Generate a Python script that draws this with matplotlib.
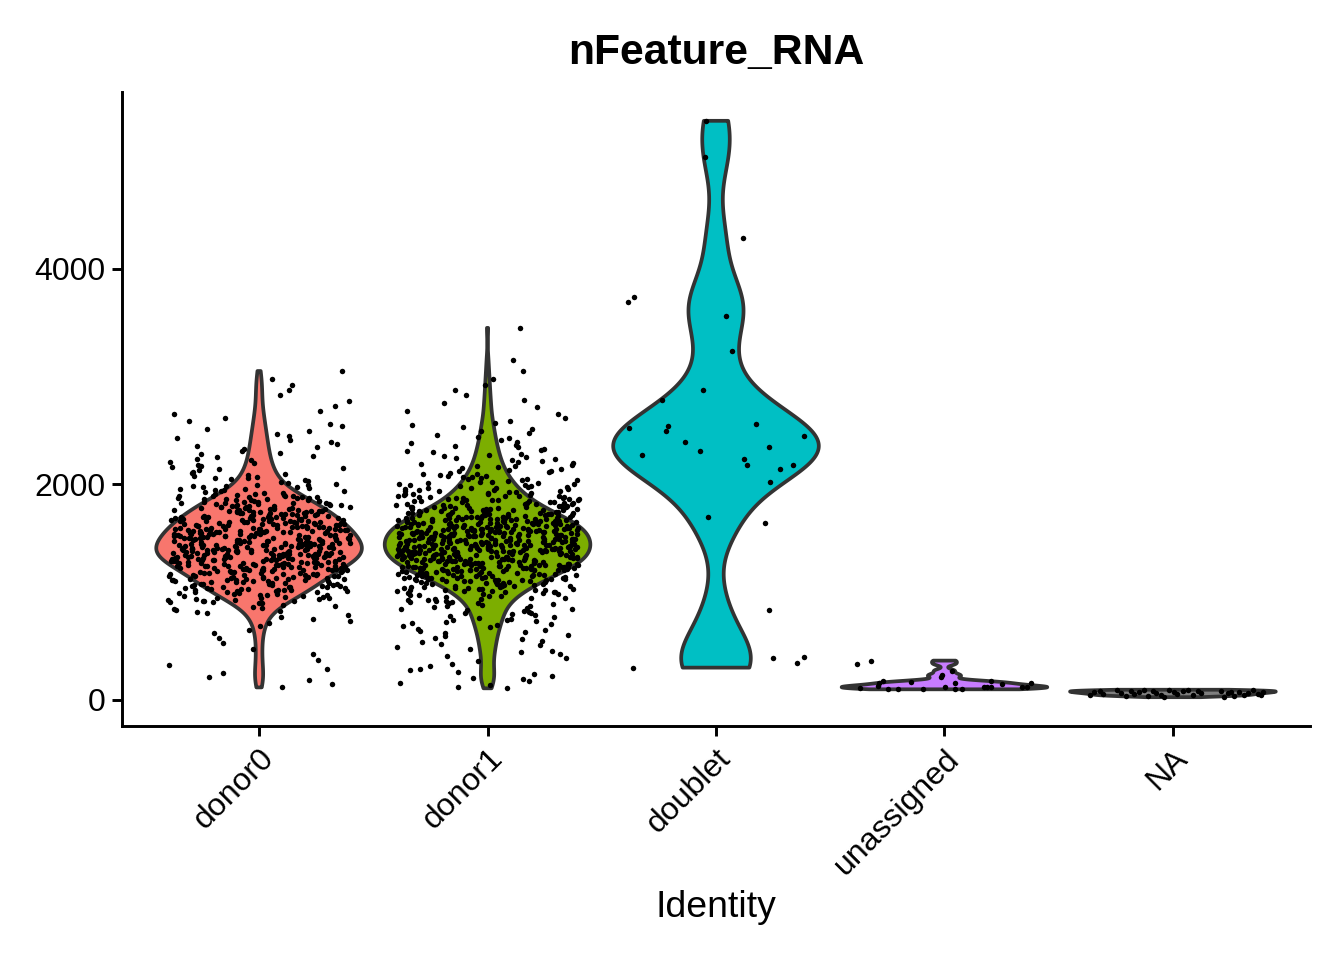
import numpy as np
import matplotlib
matplotlib.use("Agg")
import matplotlib.pyplot as plt

plt.rcParams['font.family'] = ['Liberation Sans', 'DejaVu Sans']

# ---------------- data ----------------
categories = ["donor0", "donor1", "doublet", "unassigned", "NA"]
fill_colors = ["#F8766D", "#7CAE00", "#00BFC4", "#C77CFF", "#7F7F7F"]

# donor0 / donor1: too many cells to read one by one -> counts per 100-unit bin
bin_width = 100
donor0_bin_starts = list(range(100, 3100, 100))
donor0_counts = [3, 3, 2, 2, 2, 3, 5, 10, 25, 36, 44, 57, 69, 66, 61, 54, 45, 34,
                 19, 12, 9, 7, 6, 5, 4, 3, 2, 2, 2, 1]
donor1_bin_starts = list(range(100, 3500, 100))
donor1_counts = [6, 6, 4, 6, 7, 9, 12, 14, 21, 35, 52, 73, 82, 83, 81, 71, 50, 35,
                 25, 18, 13, 10, 8, 6, 5, 3, 3, 2, 2, 1, 1, 0, 0, 1]

doublet_values = [5370, 5033, 4287, 3733, 3692, 3560, 3235, 2874, 2783, 2526,
                  2540, 2493, 2563, 2448, 2394, 2347, 2306, 2273, 2232, 2178,
                  2141, 2175, 2019, 1692, 1638, 837, 391, 300, 341, 398]
doublet_offsets = [-0.044, -0.050, 0.117, -0.360, -0.385, 0.044, 0.069, -0.057,
                   -0.235, -0.382, -0.209, -0.221, 0.175, 0.387, -0.137, 0.232,
                   -0.070, -0.323, 0.123, 0.135, 0.282, 0.339, 0.235, -0.037,
                   0.215, 0.231, 0.249, -0.364, 0.355, 0.383]

unassigned_values = [334, 365, 108, 155, 173, 133, 102, 99, 167, 102, 216, 272,
                     155, 124, 105, 102, 124, 124, 176, 124, 146, 124, 124, 155, 235]
unassigned_offsets = [-0.383, -0.320, -0.371, -0.288, -0.269, -0.293, -0.247,
                      -0.205, -0.145, -0.096, -0.014, 0.031, 0.047, 0.004, 0.045,
                      0.076, 0.172, 0.187, 0.205, 0.202, 0.253, 0.338, 0.363,
                      0.380, -0.009]

na_values = [48, 70, 84, 58, 93, 66, 40, 85, 52, 74, 88, 35, 79, 62, 45, 30, 92,
             71, 55, 83, 95, 44, 86, 68, 81, 26, 61, 78, 38, 76, 50, 64, 90, 57,
             42, 73]
na_offsets = [-0.363, -0.345, -0.319, -0.308, -0.243, -0.228, -0.206, -0.184,
              -0.170, -0.148, -0.126, -0.111, -0.089, -0.075, -0.053, -0.038,
              -0.016, 0.006, 0.020, 0.042, 0.064, 0.086, 0.108, 0.123, 0.211,
              0.225, 0.240, 0.254, 0.269, 0.291, 0.313, 0.327, 0.349, 0.371,
              0.386, 0.395]

y_ticks = [0, 2000, 4000]
title = "nFeature_RNA"
x_title = "Identity"


def from_bins(starts, counts, w):
    vals = []
    for lo, c in zip(starts, counts):
        for k in range(c):
            vals.append(lo + (k + 0.5) * w / c)
    return np.array(vals)


def nrd0(x):
    x = np.asarray(x, float)
    hi = np.std(x, ddof=1)
    q75, q25 = np.percentile(x, [75, 25])
    lo = min(hi, (q75 - q25) / 1.34)
    if lo == 0:
        lo = hi if hi > 0 else (abs(x[0]) if x[0] != 0 else 1)
    return 0.9 * lo * len(x) ** (-0.2)


def violin_profile(x, n=512):
    x = np.asarray(x, float)
    bw = nrd0(x)
    grid = np.linspace(x.min(), x.max(), n)
    d = np.exp(-0.5 * ((grid[:, None] - x[None, :]) / bw) ** 2).sum(axis=1)
    return grid, d / d.max()


donor0_values = from_bins(donor0_bin_starts, donor0_counts, bin_width)
donor1_values = from_bins(donor1_bin_starts, donor1_counts, bin_width)

# jitter (as geom_jitter does) for the two big groups
jit = np.random.default_rng(7)
donor0_offsets = jit.uniform(-0.4, 0.4, len(donor0_values))
donor1_offsets = jit.uniform(-0.4, 0.4, len(donor1_values))

groups = [
    (donor0_values, donor0_offsets),
    (donor1_values, donor1_offsets),
    (np.array(doublet_values, float), np.array(doublet_offsets)),
    (np.array(unassigned_values, float), np.array(unassigned_offsets)),
    (np.array(na_values, float), np.array(na_offsets)),
]

# ---------------- figure ----------------
DPI = 192
fig = plt.figure(figsize=(1344 / DPI, 960 / DPI), dpi=DPI)
ax = fig.add_axes([122 / 1344, 1 - 726 / 960, (1310 - 122) / 1344, (726 - 92) / 960])

lw = 1.1
for i, ((vals, offs), col) in enumerate(zip(groups, fill_colors)):
    pos = i + 1
    grid, dens = violin_profile(vals)
    half = dens * 0.45
    xs = np.concatenate([pos - half, (pos + half)[::-1]])
    ys = np.concatenate([grid, grid[::-1]])
    ax.fill(xs, ys, facecolor=col, edgecolor="#333333", linewidth=1.4,
            joinstyle="round", zorder=2)
    ax.scatter(pos + offs, vals, s=4.2, color="black", linewidths=0, zorder=3)

allv = np.concatenate([g[0] for g in groups])
vmin, vmax = allv.min(), allv.max()
rng_ = vmax - vmin
ax.set_ylim(vmin - 0.05 * rng_, vmax + 0.05 * rng_)
ax.set_xlim(0.4, len(categories) + 0.6)

ax.set_xticks(range(1, len(categories) + 1))
ax.set_xticklabels(categories, rotation=45, ha="right", va="top",
                   rotation_mode="anchor", fontsize=12)
ax.set_yticks(y_ticks)
ax.set_yticklabels([str(t) for t in y_ticks], fontsize=12)

for s in ["top", "right"]:
    ax.spines[s].set_visible(False)
for s in ["left", "bottom"]:
    ax.spines[s].set_linewidth(lw)
    ax.spines[s].set_color("black")
ax.tick_params(axis="both", length=3.6, width=lw, color="black", labelcolor="black")
ax.tick_params(axis="y", pad=2.6)
ax.tick_params(axis="x", pad=3.0)

ax.set_xlabel(x_title, fontsize=14, labelpad=3.4)
ax.set_title(title, fontsize=16, fontweight="bold", pad=10.5)

fig.savefig("out.png", dpi=DPI)
